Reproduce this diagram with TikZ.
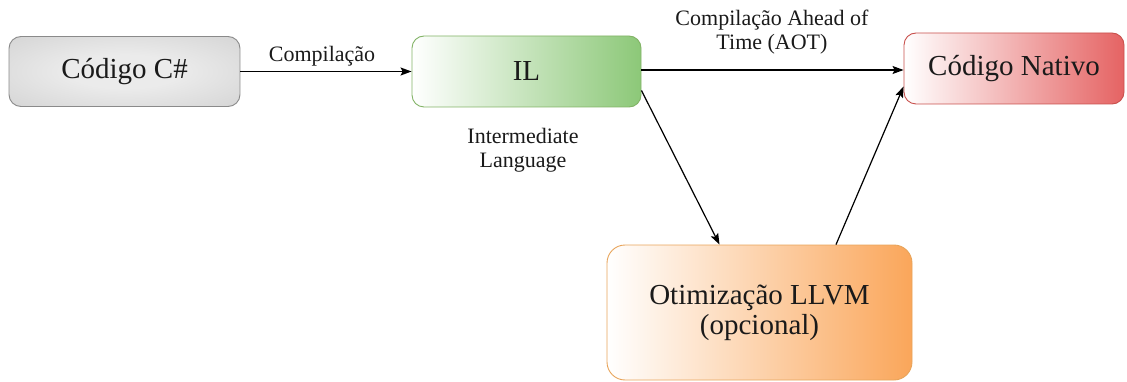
\documentclass[tikz,border=0pt]{standalone}
\usepackage{fontspec}
\setmainfont{Liberation Serif}
\usetikzlibrary{arrows.meta,calc}

\definecolor{grayedge}{HTML}{8A8A8A}
\definecolor{graymid}{HTML}{EBEBEB}
\definecolor{grayout}{HTML}{C8C8C8}
\definecolor{graycorner}{HTML}{B8B8B8}
\definecolor{greenfill}{HTML}{8CC878}
\definecolor{greenedge}{HTML}{82B366}
\definecolor{redfill}{HTML}{E56363}
\definecolor{rededge}{HTML}{C8504C}
\definecolor{orangefill}{HTML}{FAA65A}
\definecolor{orangeedge}{HTML}{E8A45A}
\definecolor{ink}{HTML}{1A1A1A}

% soft radial gradient for the source box
\pgfdeclareradialshading{softgray}{\pgfpoint{0bp}{0bp}}{%
  color(0bp)=(graymid); color(12bp)=(graymid); color(50bp)=(grayout); color(71bp)=(graycorner)}

\tikzset{
  boxtext/.style={font=\fontsize{29}{31}\selectfont, text=ink, align=center},
  labeltext/.style={font=\fontsize{22}{24.5}\selectfont, text=ink, align=center},
  stagebox/.style={boxtext, rounded corners=12pt, inner sep=0pt, line width=0.9pt},
  flow/.style={line width=1.2pt, -{Stealth[length=11pt,width=8pt,inset=2pt]}}
}

\begin{document}
\begin{tikzpicture}[x=1pt,y=1pt]
  \useasboundingbox (0,0) rectangle (1127,-382);

  % pipeline stages
  \node[stagebox, draw=grayedge, shading=softgray,
        minimum width=231pt, minimum height=70pt] (cs) at (124.5,-71.5) {Código C\#};
  \node[stagebox, draw=greenedge, left color=white, right color=greenfill,
        minimum width=229pt, minimum height=71pt] (il) at (526.5,-71.5) {IL};
  \node[stagebox, draw=rededge, left color=white, right color=redfill,
        minimum width=220pt, minimum height=71pt] (nat) at (1014,-68.5) {Código Nativo};
  \node[stagebox, draw=orangeedge, left color=white, right color=orangefill,
        rounded corners=18pt, minimum width=305pt, minimum height=135pt]
        (llvm) at (759.5,-312.5) {Otimização LLVM\\[-1pt](opcional)};

  % connection points on the boxes
  \coordinate (ilout) at ($(il.east)+(0,-19)$);
  \coordinate (llvmin) at ($(llvm.north)+(-40,0)$);
  \coordinate (llvmout) at ($(llvm.north)+(76.5,0)$);
  \coordinate (natin) at ($(nat.west)+(0,-18)$);

  % connectors
  \draw[flow] (cs.east) -- (il.west);
  \draw[flow] ($(il.east)+(0,1.5)$) -- ($(nat.west)+(0,-1.5)$);
  \draw[flow] (ilout) -- (llvmin);
  \draw[flow] (llvmout) -- (natin);

  % labels
  \node[labeltext] (lcomp) at (322,-56) {Compilação};
  \node[labeltext] (laot) at (772,-32) {Compilação Ahead of\\Time (AOT)};
  \node[labeltext] (lil) at (523,-150) {Intermediate\\Language};
\end{tikzpicture}
\end{document}
